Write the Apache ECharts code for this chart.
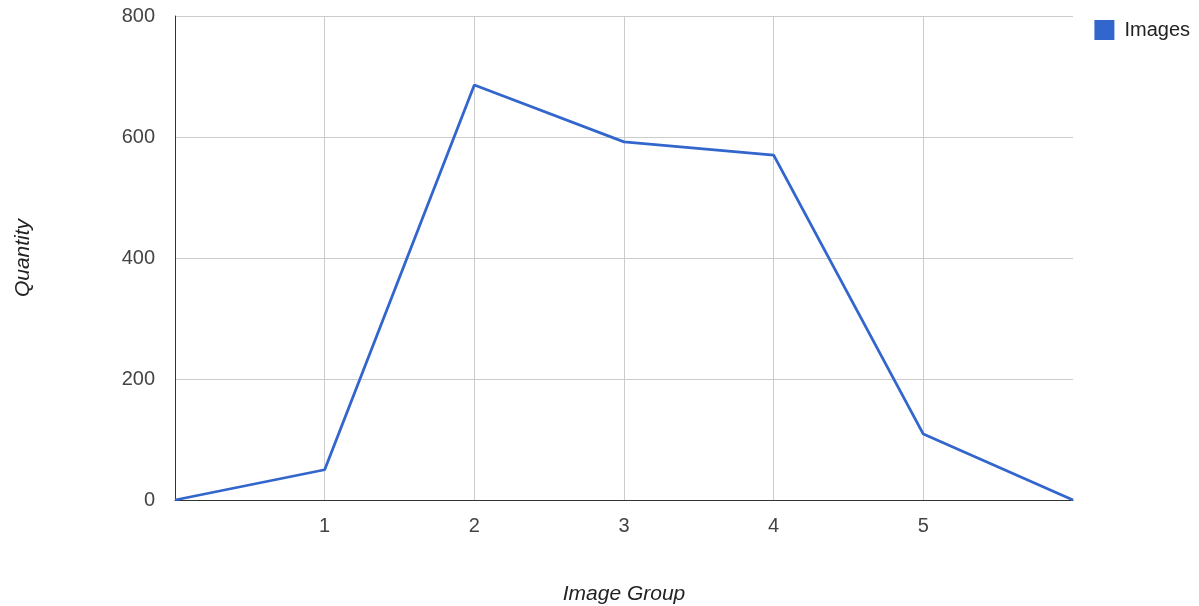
<!DOCTYPE html>
<html>
<head>
<meta charset="utf-8">
<script src="https://cdn.jsdelivr.net/npm/echarts@6/dist/echarts.min.js"></script>
<style>
  html, body { margin: 0; padding: 0; background: #fff; }
  #chart { width: 1199px; height: 606px; }
</style>
</head>
<body>
<div id="chart"></div>
<script>
// Image groups along the x axis and the number of images in each
const groups = [0, 1, 2, 3, 4, 5, 6];
const quantities = [0, 50, 686, 592, 570, 109, 0];
const yTicks = [0, 200, 400, 600, 800];
const seriesName = 'Images';

const FONT = '"Liberation Sans", Arial, sans-serif';
const chart = echarts.init(document.getElementById('chart'));

chart.setOption({
  animation: false,
  backgroundColor: '#ffffff',
  grid: { left: 175, right: 126, top: 16, bottom: 106, outerBoundsMode: 'none', containLabel: false },
  legend: {
    data: [seriesName],
    right: 4,
    top: 15,
    icon: 'rect',
    itemWidth: 20,
    itemHeight: 20,
    itemGap: 10,
    textStyle: { fontFamily: FONT, fontSize: 20, color: '#222', padding: [0, 0, 0, 5] }
  },
  xAxis: {
    type: 'value',
    min: groups[0],
    max: groups[groups.length - 1],
    interval: 1,
    name: 'Image Group',
    nameLocation: 'middle',
    nameGap: 84,
    nameTextStyle: { fontFamily: FONT, fontSize: 21, fontStyle: 'italic', color: '#222' },
    axisLine: { show: true, lineStyle: { color: '#333', width: 1 } },
    axisTick: { show: false },
    axisLabel: {
      margin: 16,
      fontFamily: FONT, fontSize: 20, color: '#444',
      formatter: v => (v === groups[0] || v === groups[groups.length - 1]) ? '' : String(v)
    },
    splitLine: { show: true, showMinLine: false, showMaxLine: false, lineStyle: { color: '#cccccc', width: 1 } }
  },
  yAxis: {
    type: 'value',
    min: yTicks[0],
    max: yTicks[yTicks.length - 1],
    interval: yTicks[1] - yTicks[0],
    name: 'Quantity',
    nameLocation: 'middle',
    nameGap: 141,
    nameTextStyle: { fontFamily: FONT, fontSize: 21, fontStyle: 'italic', color: '#222' },
    axisLine: { show: true, lineStyle: { color: '#333', width: 1 } },
    axisTick: { show: false },
    axisLabel: { margin: 20, fontFamily: FONT, fontSize: 20, color: '#444' },
    splitLine: { show: true, lineStyle: { color: '#cccccc', width: 1 } }
  },
  series: [{
    name: seriesName,
    type: 'line',
    data: groups.map((g, i) => [g, quantities[i]]),
    showSymbol: false,
    symbol: 'none',
    itemStyle: { color: '#3366cc' },
    lineStyle: { color: '#3366cc', width: 2.8 }
  }]
});
</script>
</body>
</html>
